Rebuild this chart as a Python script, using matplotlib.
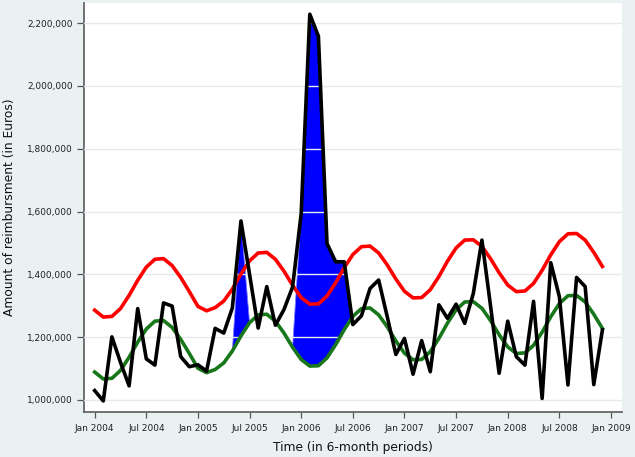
import numpy as np
import matplotlib.pyplot as plt

# monthly reimbursement, Jan 2004 .. Dec 2008 (thousands of euros)
observed = [
    1030, 997, 1201, 1120, 1045, 1291, 1131, 1111, 1309, 1299, 1138, 1106,
    1112, 1092, 1228, 1213, 1293, 1570, 1400, 1229, 1361, 1238, 1288, 1360,
    1594, 2228, 2158, 1498, 1440, 1440, 1240, 1268, 1355, 1382, 1265, 1145,
    1196, 1082, 1189, 1090, 1303, 1260, 1305, 1244, 1339, 1509, 1300, 1085,
    1251, 1138, 1111, 1314, 1005, 1437, 1329, 1048, 1390, 1361, 1049, 1223,
]
upper = [
    1286, 1264, 1266, 1291, 1333, 1381, 1423, 1448, 1450, 1428, 1390, 1345,
    1298, 1284, 1294, 1315, 1353, 1401, 1443, 1468, 1470, 1448, 1410, 1365,
    1326, 1305, 1306, 1331, 1373, 1421, 1463, 1488, 1490, 1468, 1430, 1385,
    1346, 1325, 1326, 1351, 1393, 1442, 1484, 1509, 1510, 1489, 1450, 1405,
    1366, 1345, 1347, 1371, 1413, 1462, 1504, 1529, 1530, 1509, 1470, 1425,
]
lower = [
    1089, 1067, 1069, 1094, 1136, 1184, 1226, 1251, 1253, 1231, 1193, 1148,
    1101, 1087, 1097, 1118, 1156, 1204, 1246, 1271, 1273, 1251, 1213, 1168,
    1129, 1108, 1109, 1134, 1176, 1224, 1266, 1291, 1293, 1271, 1233, 1188,
    1149, 1128, 1129, 1154, 1196, 1245, 1287, 1312, 1313, 1292, 1253, 1208,
    1169, 1148, 1150, 1174, 1216, 1265, 1307, 1332, 1333, 1312, 1273, 1228,
]
# months inside the two flagged alarm windows
alarm_months = [16, 17, 18, 23, 24, 25, 26, 27, 28, 29, 30]
tick_labels = [
    "Jan 2004", "Jul 2004", "Jan 2005", "Jul 2005", "Jan 2006", "Jul 2006",
    "Jan 2007", "Jul 2007", "Jan 2008", "Jul 2008", "Jan 2009",
]
yticks = [1000, 1200, 1400, 1600, 1800, 2000, 2200]

# %%
months = np.arange(len(observed))
obs = np.array(observed) * 1000.0
up = np.array(upper) * 1000.0
lo = np.array(lower) * 1000.0
alarm = np.isin(months, alarm_months)

bg = "#e9f1f3"
fig = plt.figure(figsize=(6.35, 4.57), dpi=100, facecolor=bg)
ax = fig.add_axes([84 / 635, 1 - 412 / 457, 538 / 635, 409 / 457])
ax.set_facecolor("white")

# excess above the upper band, shaded down to the lower band
ax.fill_between(months, lo, obs, where=(obs > up) & alarm, interpolate=True,
                facecolor="#0000ff", edgecolor="#7a7aff", linewidth=0.6,
                zorder=2)

for v in yticks:
    ax.axhline(v * 1000, color="#e3ebee", linewidth=1.0, zorder=3)

ax.plot(months, up, color="#ff0000", linewidth=2.6, zorder=4)
ax.plot(months, lo, color="#17771a", linewidth=2.6, zorder=4)
ax.plot(months, obs, color="black", linewidth=2.6, zorder=5)

ax.set_xlim(-1.24, 61.28)
ax.set_ylim(961800, 2263700)
ax.set_xticks(np.arange(0, 61, 6))
ax.set_xticklabels(tick_labels)
ax.set_yticks([v * 1000 for v in yticks])
ax.set_yticklabels(["{:,}".format(v * 1000) for v in yticks])
ax.tick_params(axis="both", labelsize=6.5, width=0.9,
               color="#555555", labelcolor="#222222")
ax.tick_params(axis="y", length=5, pad=3)
ax.tick_params(axis="x", length=4, pad=4.5)

ax.spines[["right", "top"]].set_visible(False)
for s in ["left", "bottom"]:
    ax.spines[s].set_color("#666666")
    ax.spines[s].set_linewidth(1.3)

ax.set_xlabel("Time (in 6-month periods)", fontsize=8.8, color="#111111",
              labelpad=6)
ax.set_ylabel("Amount of reimbursment (in Euros)", fontsize=8.8,
              color="#111111", labelpad=8)

fig.savefig("out.png", dpi=100, facecolor=bg)
